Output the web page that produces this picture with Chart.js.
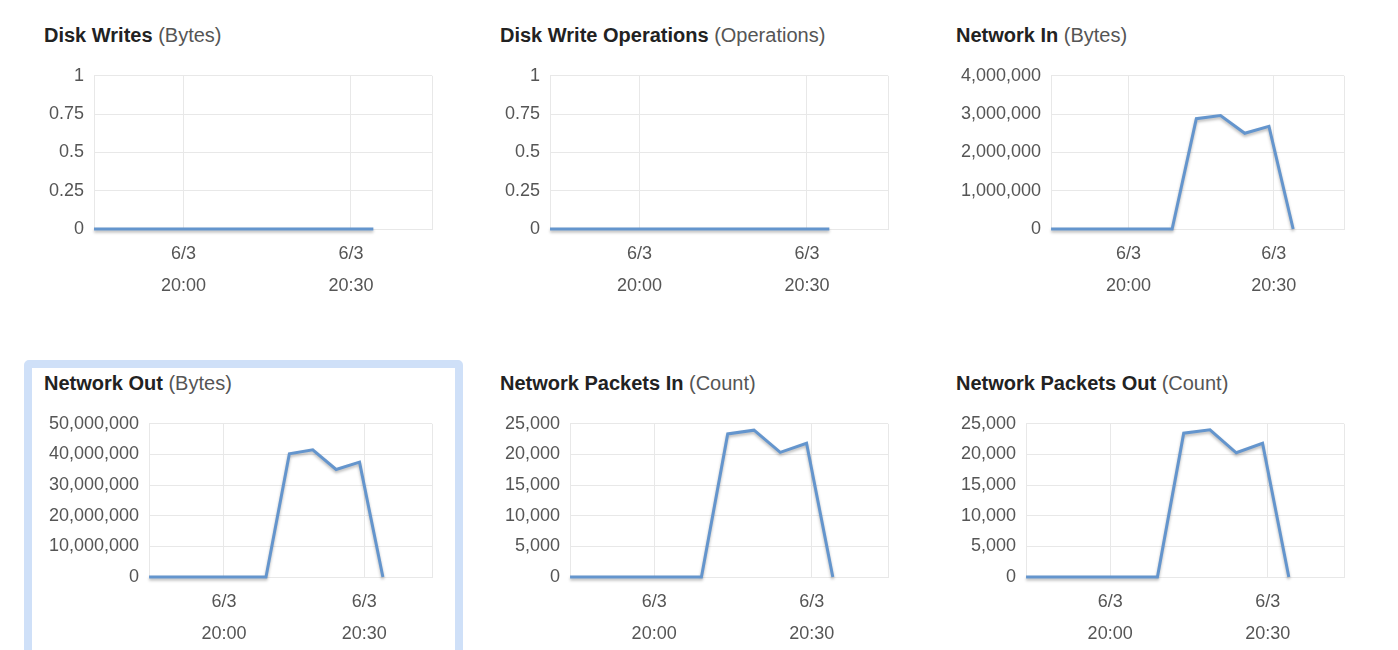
<!DOCTYPE html>
<html>
<head>
<meta charset="utf-8">
<script src="https://cdn.jsdelivr.net/npm/chart.js@4.4.1/dist/chart.umd.min.js"></script>
<style>
  html, body { margin: 0; padding: 0; background: #ffffff; }
  body { width: 1398px; height: 650px; position: relative; overflow: hidden; font-family: "Liberation Sans", Arial, sans-serif; }
  .title { position: absolute; font-size: 20px; line-height: 24px; white-space: nowrap; color: #555; }
  .title b { color: #222; font-weight: bold; }
  .chartbox { position: absolute; line-height: 0; }
  .selected { position: absolute; left: 24px; top: 360px; width: 439px; height: 310px; box-sizing: border-box;
              border: 8px solid #cfe0f8; border-radius: 5px; }
</style>
</head>
<body>
<div class="selected"></div>
<script>
// ---- data ----
const times = ['19:44','19:49','19:54','19:59','20:04','20:09','20:14','20:19','20:24','20:29','20:34'];
const diskWrites      = [0,0,0,0,0,0,0,0,0,0,0];
const diskWriteOps    = [0,0,0,0,0,0,0,0,0,0,0];
const networkIn       = [0,0,0,0,0,0,2880000,2960000,2500000,2680000,0];
const networkOut      = [0,0,0,0,0,0,40200000,41500000,35100000,37500000,0];
const networkPktsIn   = [0,0,0,0,0,0,23350,23960,20340,21820,0];
const networkPktsOut  = [0,0,0,0,0,0,23470,24010,20270,21820,0];

const xTickTimes = ['20:00','20:30'];
const xTickDate = '6/3';
const axisStart = '19:44';
const axisEnd = '20:44:30';

const chartTitles = ['Disk Writes','Disk Write Operations','Network In','Network Out','Network Packets In','Network Packets Out'];
const chartUnits  = ['Bytes','Operations','Bytes','Bytes','Count','Count'];
const yMaxes      = [1, 1, 4000000, 50000000, 25000, 25000];
const ySteps      = [0.25, 0.25, 1000000, 10000000, 5000, 5000];
const series      = [diskWrites, diskWriteOps, networkIn, networkOut, networkPktsIn, networkPktsOut];

// ---- helpers ----
function mins(t) { const p = t.split(':').map(Number); return (p[0]-20)*60 + p[1] + (p[2]||0)/60; }

const shadowPlugin = {
  id: 'lineShadow',
  beforeDatasetsDraw(chart) { const c = chart.ctx; c.save(); c.shadowColor = 'rgba(0,0,0,0.28)'; c.shadowBlur = 3; c.shadowOffsetY = 2; },
  afterDatasetsDraw(chart) { chart.ctx.restore(); }
};

const GRID = '#e8e8e8';
const TXT = '#555555';
const TICK_FONT = '18px "Liberation Sans"';
const Y_PAD = 10;

function makeConfig(i) {
  const pts = times.map((t, k) => ({ x: mins(t), y: series[i][k] }));
  const xmin = mins(axisStart), xmax = mins(axisEnd);
  return {
    type: 'line',
    data: { datasets: [{ data: pts, borderColor: '#6495cd', borderWidth: 3, pointRadius: 0, pointHoverRadius: 0, tension: 0, fill: false, clip: false, borderJoinStyle: 'miter' }] },
    options: {
      responsive: false, maintainAspectRatio: false, animation: false, devicePixelRatio: 1,
      plugins: { legend: { display: false }, tooltip: { enabled: false } },
      layout: { padding: 0, autoPadding: false },
      scales: {
        x: {
          type: 'linear', min: xmin, max: xmax,
          afterBuildTicks(scale) { scale.ticks = xTickTimes.map(t => ({ value: mins(t) })).concat([{ value: xmax }]); },
          ticks: {
            autoSkip: false, maxRotation: 0, padding: 9, color: TXT,
            font: { family: 'Liberation Sans', size: 18, lineHeight: '32px' },
            callback(v) { const idx = xTickTimes.findIndex(t => Math.abs(mins(t) - v) < 1e-6); return idx >= 0 ? [xTickDate, xTickTimes[idx]] : ''; }
          },
          grid: { color: GRID, drawTicks: false, lineWidth: 1 },
          border: { color: GRID }
        },
        y: {
          min: 0, max: yMaxes[i],
          ticks: { stepSize: ySteps[i], padding: Y_PAD, color: TXT,
                   font: { family: 'Liberation Sans', size: 18 },
                   callback(v) { return Number(v).toLocaleString('en-US'); } },
          grid: { color: GRID, drawTicks: false, lineWidth: 1 },
          border: { color: GRID }
        }
      }
    },
    plugins: [shadowPlugin]
  };
}

for (let i = 0; i < 6; i++) {
  const col = i % 3, row = Math.floor(i / 3);
  const title = document.createElement('div');
  title.className = 'title';
  title.style.left = (44 + 456*col) + 'px';
  title.style.top = (23 + 348*row) + 'px';
  title.innerHTML = '<b>' + chartTitles[i] + '</b> (' + chartUnits[i] + ')';
  document.body.appendChild(title);

  // measuring pass: find how far the plot area sits from the canvas edges
  const W0 = 400, H0 = 260;
  const probeBox = document.createElement('div');
  probeBox.className = 'chartbox';
  probeBox.style.left = '0px'; probeBox.style.top = '700px';
  const probe = document.createElement('canvas');
  probe.width = W0; probe.height = H0;
  probeBox.appendChild(probe);
  document.body.appendChild(probeBox);
  const pc = new Chart(probe, makeConfig(i));
  const ca = pc.chartArea;
  const ctx = pc.ctx;
  ctx.save(); ctx.font = TICK_FONT;
  const widest = Math.max(...pc.scales.y.ticks.map(t => ctx.measureText(String(t.label)).width));
  ctx.restore();
  const L0 = ca.left - Y_PAD - widest;
  const T0 = ca.top, R0 = W0 - ca.right, B0 = H0 - ca.bottom;
  pc.destroy();
  probeBox.remove();

  // real chart, sized so the plot area lands where the reference has it
  const labelLeft = 49 + 456*col, plotTop = 76 + 348*row, plotRight = 432 + 456*col, plotBottom = 229 + 348*row;
  const bx = Math.round(labelLeft - L0), by = Math.round(plotTop - T0);
  const nw = Math.round(plotRight + R0 - bx), nh = Math.round(plotBottom - plotTop + T0 + B0);
  const box = document.createElement('div');
  box.className = 'chartbox';
  box.style.left = bx + 'px';
  box.style.top = by + 'px';
  const cv = document.createElement('canvas');
  cv.width = nw; cv.height = nh;
  box.appendChild(cv);
  document.body.appendChild(box);
  new Chart(cv, makeConfig(i));
}
</script>
</body>
</html>
